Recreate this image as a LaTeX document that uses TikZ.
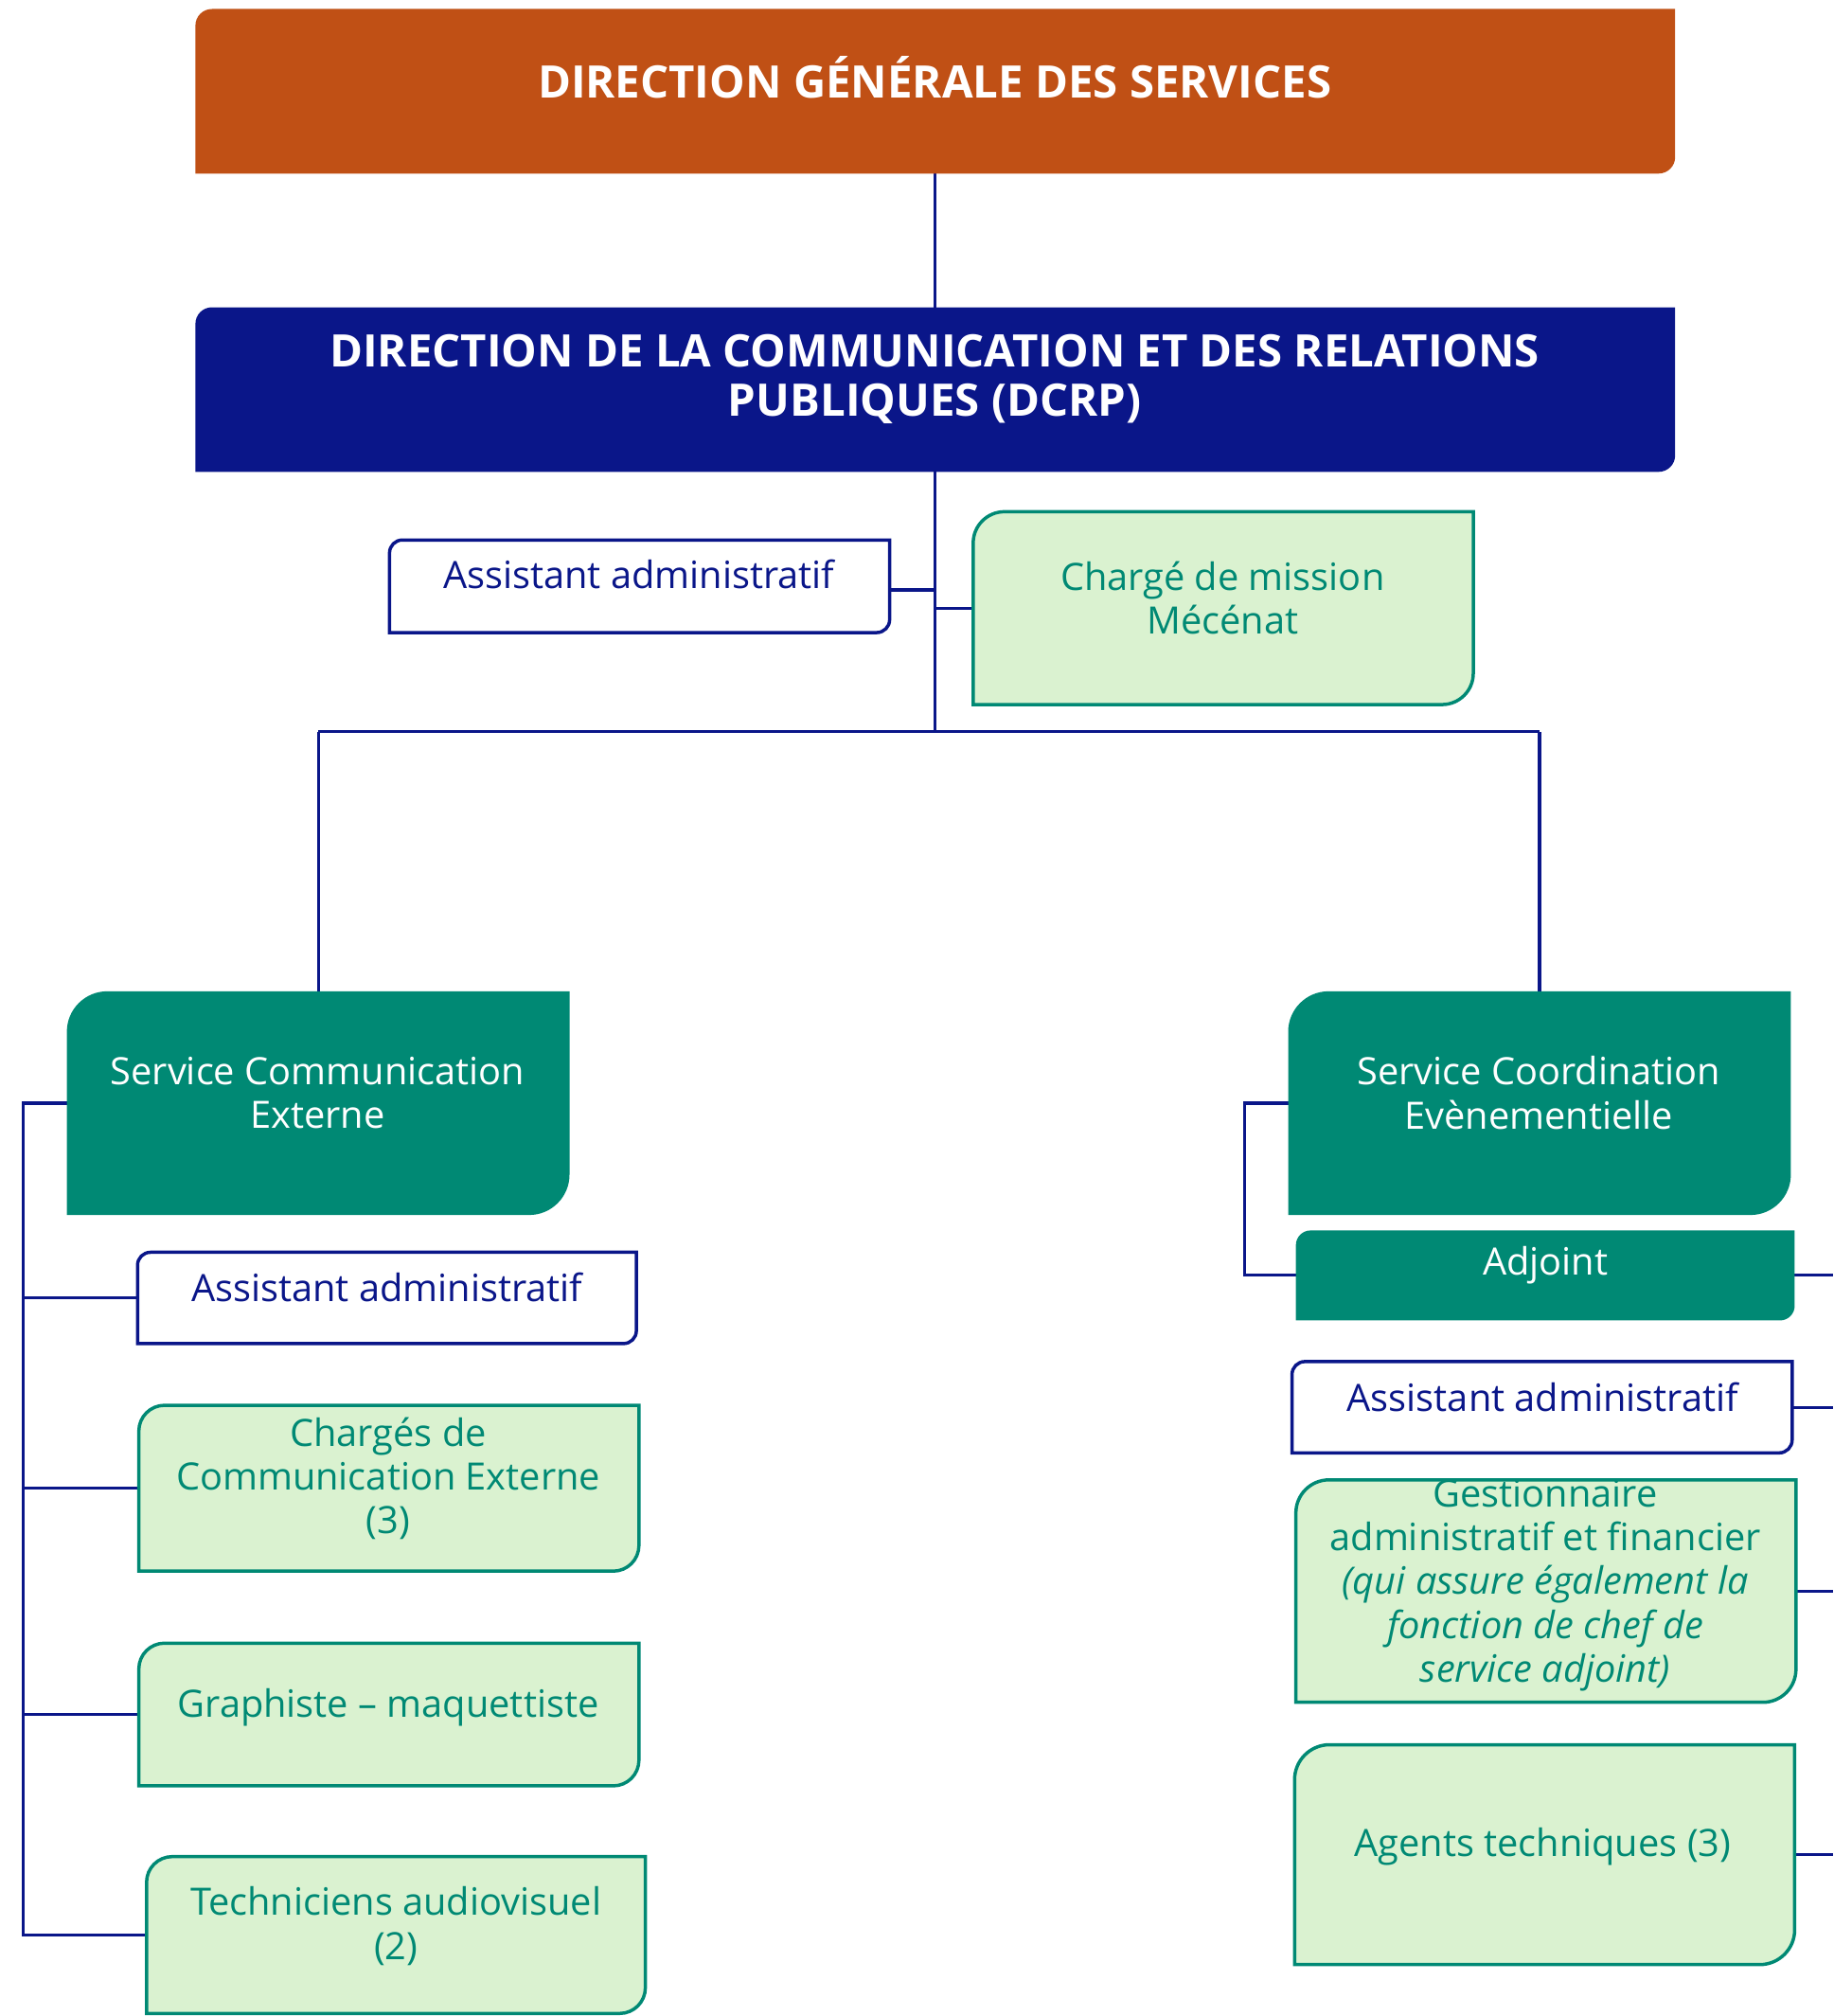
\documentclass[tikz,border=0pt]{standalone}
\usepackage{fontspec}
\setmainfont{Open Sans}
\usetikzlibrary{fit}
\definecolor{dgsorange}{RGB}{192,80,21}
\definecolor{navyc}{RGB}{10,22,137}
\definecolor{tealc}{RGB}{0,137,116}
\definecolor{lgreen}{RGB}{218,242,208}
\tikzset{
  frame/.style={inner sep=0pt, outer sep=0pt, draw=none},
  link/.style={draw=navyc, line width=1.6pt},
  title/.style={text=white, font=\fontsize{24.4}{26.6}\selectfont\bfseries, align=center, inner sep=0pt},
  lbl/.style={font=\fontsize{20.5}{23.8}\selectfont, align=center, inner sep=0pt},
  navylbl/.style={lbl, text=navyc},
  greenlbl/.style={lbl, text=tealc},
  whitelbl/.style={lbl, text=white},
  orangefill/.style={fill=dgsorange},
  navyfill/.style={fill=navyc},
  tealfill/.style={fill=tealc},
  whitebox/.style={fill=white, draw=navyc, line width=1.8pt},
  greenbox/.style={fill=lgreen, draw=tealc, line width=1.8pt},
}
\newcommand\cornerbox[3]{%
  \path[#3] (#1.south west) -- ([yshift=-#2]#1.north west)
    arc[start angle=180,end angle=90,radius=#2] -- (#1.north east)
    -- ([yshift=#2]#1.south east) arc[start angle=0,end angle=-90,radius=#2] -- cycle;}
\begin{document}
\begin{tikzpicture}[x=0.7pt,y=-0.7pt]
\useasboundingbox (0,0) rectangle (1426,1568);
% frames
\node[frame, fit={(152,7)(1303,135)}] (dgs) {};
\node[frame, fit={(152,239)(1303,367)}] (dcrp) {};
\node[frame, fit={(303,420)(692,492)}] (asst0) {};
\node[frame, fit={(757,398)(1146,548)}] (mec) {};
\node[frame, fit={(52,771)(443,945)}] (sce) {};
\node[frame, fit={(1002,771)(1393,945)}] (scev) {};
\node[frame, fit={(1008,957)(1396,1027)}] (adj) {};
\node[frame, fit={(107,974)(495,1045)}] (asst1) {};
\node[frame, fit={(108,1093)(497,1222)}] (chg) {};
\node[frame, fit={(108,1278)(497,1389)}] (gra) {};
\node[frame, fit={(114,1444)(502,1566)}] (tec) {};
\node[frame, fit={(1005,1059)(1394,1130)}] (asst2) {};
\node[frame, fit={(1008,1151)(1397,1324)}] (ges) {};
\node[frame, fit={(1007,1357)(1396,1528)}] (agt) {};
\coordinate (j) at (727.5,569);
\coordinate (jl) at (247.5,569);
\coordinate (jr) at (1197.5,569);
\coordinate (ls) at (18,0);
\coordinate (rs) at (968,0);
\coordinate (re) at (1426,0);
% connectors
\draw[link] (dgs.south) -- (dcrp.north);
\draw[link] (dcrp.south) -- (j);
\draw[link] (jl) -- (jr);
\draw[link] (jl) -- (sce.north);
\draw[link] (jr) -- (scev.north);
\draw[link] ([yshift=-2pt]asst0.east) -- ([yshift=-2pt]asst0.east -| j);
\draw[link] (mec.west) -- (mec.west -| j);
\draw[link] (sce.west) -- (sce.west -| ls) -- (tec.west -| ls) -- (tec.west);
\draw[link] (asst1.west -| ls) -- (asst1.west);
\draw[link] (chg.west -| ls) -- (chg.west);
\draw[link] (gra.west -| ls) -- (gra.west);
\draw[link] (scev.west) -- (scev.west -| rs) |- (adj.west);
\draw[link] (adj.east) -- (adj.east -| re);
\draw[link] (asst2.east) -- (asst2.east -| re);
\draw[link] (ges.east) -- (ges.east -| re);
\draw[link] (agt.east) -- (agt.east -| re);
% shapes
\cornerbox{dgs}{9pt}{orangefill}
\cornerbox{dcrp}{9pt}{navyfill}
\cornerbox{asst0}{7pt}{whitebox}
\cornerbox{mec}{17pt}{greenbox}
\cornerbox{sce}{22pt}{tealfill}
\cornerbox{scev}{22pt}{tealfill}
\cornerbox{adj}{8pt}{tealfill}
\cornerbox{asst1}{7pt}{whitebox}
\cornerbox{chg}{14pt}{greenbox}
\cornerbox{gra}{14pt}{greenbox}
\cornerbox{tec}{14pt}{greenbox}
\cornerbox{asst2}{7pt}{whitebox}
\cornerbox{ges}{18pt}{greenbox}
\cornerbox{agt}{19pt}{greenbox}
% texts
\node[title] (dgs-t) at (727,60) {DIRECTION GÉNÉRALE DES SERVICES};
\node[title] (dcrp-t) at (727,295) {DIRECTION DE LA COMMUNICATION ET DES RELATIONS\\PUBLIQUES (DCRP)};
\node[navylbl] (asst0-t) at (497,447) {Assistant administratif};
\node[greenlbl] (mec-t) at (951,465) {Chargé de mission\\Mécénat};
\node[whitelbl] (sce-t) at (247,850) {Service Communication\\Externe};
\node[whitelbl] (scev-t) at (1197,850) {Service Coordination\\Evènementielle};
\node[whitelbl] (adj-t) at (1202,984) {Adjoint};
\node[navylbl] (asst1-t) at (301,1001) {Assistant administratif};
\node[greenlbl] (chg-t) at (302,1150) {Chargés de\\Communication Externe\\(3)};
\node[greenlbl] (gra-t) at (302,1328) {Graphiste – maquettiste};
\node[greenlbl] (tec-t) at (308,1498) {Techniciens audiovisuel\\(2)};
\node[navylbl] (asst2-t) at (1200,1087) {Assistant administratif};
\node[greenlbl] (ges-t) at (1202,1233) {Gestionnaire\\administratif et financier\\\textit{(qui assure également la}\\\textit{fonction de chef de}\\\textit{service adjoint)}};
\node[greenlbl] (agt-t) at (1200,1436) {Agents techniques (3)};
\end{tikzpicture}
\end{document}
